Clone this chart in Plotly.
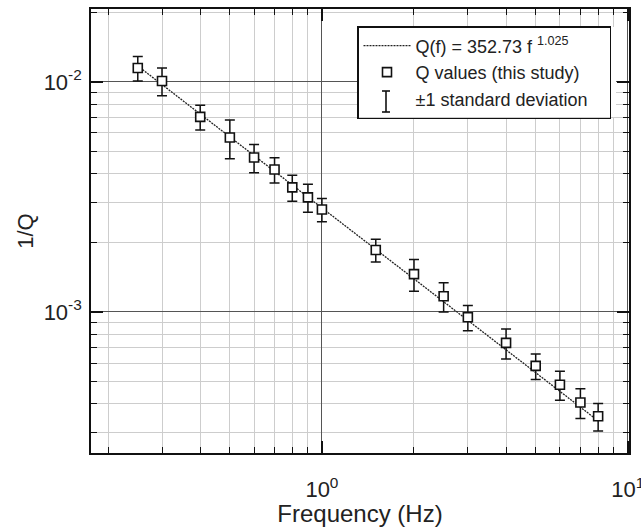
import numpy as np
import plotly.graph_objects as go

# ---- data ----
freq = [0.25, 0.3, 0.4, 0.5, 0.6, 0.7, 0.8, 0.9, 1.0, 1.5, 2.0, 2.5, 3.0, 4.0, 5.0, 6.0, 7.0, 8.0]
inv_q = [0.0115, 0.0101, 0.00705, 0.00573, 0.00469, 0.00416, 0.00348, 0.00315, 0.00279,
         0.00186, 0.00146, 0.00117, 0.000948, 0.000734, 0.000583, 0.000483, 0.000404, 0.000352]
inv_q_sd = [0.0014, 0.0014, 0.00087, 0.0011, 0.00066, 0.00052, 0.00045, 0.00044, 0.00032,
            0.00021, 0.00023, 0.00017, 0.00012, 0.00011, 0.000074, 0.00007, 0.00006, 0.000048]
q0 = 352.73
q_exp = 1.025
fit_freq = [0.25, 8.0]

x_tickvals = [1, 10]
x_ticktext = ["10<sup>0</sup>", "10<sup>1</sup>"]
y_tickvals = [0.01, 0.001]
y_ticktext = ["10<sup>-2</sup>", "10<sup>-3</sup>"]

fit_vals = [1.0 / (q0 * f ** q_exp) for f in fit_freq]

x_minor = [m * d for d in [0.1, 1.0] for m in range(2, 10)]
y_minor = [m * d for d in [0.0001, 0.001, 0.01] for m in range(2, 10)]

FONT = "Liberation Sans, Arial, sans-serif"
PAD = "\u00a0" * 7

# ---- layout geometry (pixels) ----
W, H = 641, 527
ML, MR, MT, MB = 91, 12, 9, 74
PW, PH = W - ML - MR, H - MT - MB


def px_x(p):
    return (p - ML) / PW


def px_y(p):
    return 1 - (p - MT) / PH


LEG_L, LEG_T, LEG_R, LEG_B = 357, 26, 617, 118

fig = go.Figure()
fig.add_trace(go.Scatter(
    x=fit_freq, y=fit_vals, mode="lines",
    line=dict(color="#222", width=1.3, dash="2px,1px"),
    name="Q(f) = 352.73 f <sup>1.025</sup>" + PAD,
))
fig.add_trace(go.Scatter(
    x=freq, y=inv_q, mode="markers",
    marker=dict(symbol="square", size=9, color="white", line=dict(color="#111", width=1.6)),
    error_y=dict(type="data", array=inv_q_sd, visible=True, color="#111", thickness=1.5, width=5),
    name="Q values (this study)",
))
fig.add_trace(go.Scatter(
    x=[None], y=[None], mode="markers",
    marker=dict(symbol="line-ns-open", size=18, color="rgba(0,0,0,0)",
                line=dict(color="rgba(0,0,0,0)", width=1.6)),
    name="\u00b11 standard deviation",
))

axis_common = dict(
    type="log", automargin=False,
    showline=True, linecolor="#111", linewidth=1.6, mirror="ticks",
    ticks="inside", ticklen=12, tickwidth=1.5, tickcolor="#111",
    showgrid=True, gridcolor="#555", gridwidth=1.2,
    zeroline=False,
    tickfont=dict(family=FONT, size=22, color="#222"),
    ticklabeloverflow="allow",
)

fig.update_xaxes(
    **axis_common,
    range=[-0.755, 1.004],
    tickmode="array", tickvals=x_tickvals, ticktext=x_ticktext,
    ticklabelstandoff=16,
    minor=dict(tickmode="array", tickvals=x_minor, ticks="inside", ticklen=6,
               tickwidth=1.2, tickcolor="#111", showgrid=True, gridcolor="#cdcdcd", gridwidth=1),
    title=dict(text="Frequency (Hz)", standoff=1, font=dict(family=FONT, size=24, color="#222")),
)
fig.update_yaxes(
    **axis_common,
    range=[-3.613, -1.683],
    tickmode="array", tickvals=y_tickvals, ticktext=y_ticktext,
    ticklabelstandoff=3,
    minor=dict(tickmode="array", tickvals=y_minor, ticks="inside", ticklen=6,
               tickwidth=1.2, tickcolor="#111", showgrid=True, gridcolor="#cdcdcd", gridwidth=1),
    title=dict(text="1/Q", standoff=4, font=dict(family=FONT, size=22, color="#222")),
)

# white backing for the legend box, plus the I-beam glyph of the third legend entry
I_X, I_T, I_B, I_HALF = 386, 91, 112, 4
shapes = [
    dict(type="rect", xref="paper", yref="paper", layer="above",
         x0=px_x(LEG_L + 1), x1=px_x(LEG_R - 1), y0=px_y(LEG_B - 1), y1=px_y(LEG_T + 1),
         fillcolor="white", line=dict(width=0)),
    dict(type="line", xref="paper", yref="paper", layer="above",
         x0=px_x(I_X), x1=px_x(I_X), y0=px_y(I_B), y1=px_y(I_T), line=dict(color="#111", width=1.6)),
    dict(type="line", xref="paper", yref="paper", layer="above",
         x0=px_x(I_X - I_HALF), x1=px_x(I_X + I_HALF), y0=px_y(I_T), y1=px_y(I_T),
         line=dict(color="#111", width=1.6)),
    dict(type="line", xref="paper", yref="paper", layer="above",
         x0=px_x(I_X - I_HALF), x1=px_x(I_X + I_HALF), y0=px_y(I_B), y1=px_y(I_B),
         line=dict(color="#111", width=1.6)),
]

fig.update_layout(
    width=W, height=H,
    margin=dict(l=ML, r=MR, t=MT, b=MB),
    paper_bgcolor="white", plot_bgcolor="white",
    font=dict(family=FONT, color="#222"),
    legend=dict(
        x=px_x(LEG_L), y=px_y(LEG_T), xanchor="left", yanchor="top",
        bgcolor="rgba(0,0,0,0)", bordercolor="#111", borderwidth=1.5,
        font=dict(family=FONT, size=18, color="#222"),
        itemwidth=47,
    ),
    shapes=shapes,
    showlegend=True,
)

fig.write_html("out.html")
